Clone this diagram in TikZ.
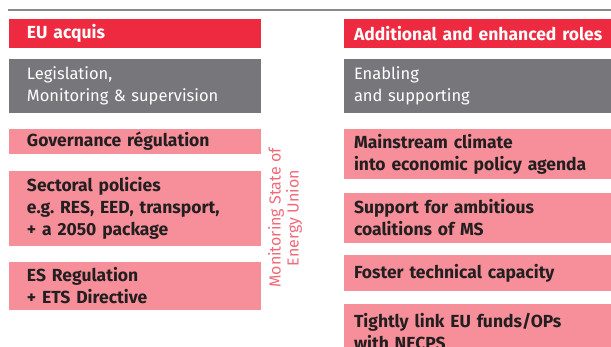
\documentclass[tikz,border=0pt]{standalone}
\usepackage{fontspec}
\setmainfont{Fira Sans}
\usetikzlibrary{positioning}

\definecolor{eured}{HTML}{EE2A40}
\definecolor{eupink}{HTML}{F68F99}
\definecolor{eugrey}{HTML}{77777B}
\definecolor{euink}{HTML}{231F20}
\definecolor{eurule}{HTML}{8A8A8C}
\definecolor{eurose}{HTML}{F06A7A}

\begin{document}
\begin{tikzpicture}[
    node distance=16pt,
  colbox/.style = {
        rectangle, align=left, outer sep=0pt, inner ysep=0pt,
        font=\fontsize{16.5}{21.5}\selectfont},
 leftbox/.style = {colbox, text width=216pt, inner xsep=18pt},
rightbox/.style = {colbox, text width=262pt, inner xsep=10pt},
 headbox/.style = {
        fill=eured, text=white, minimum height=29pt,
        font=\fontsize{17.5}{22}\selectfont\bfseries},
 greybox/.style = {fill=eugrey, text=white, minimum height=54pt},
 pinkbox/.style = {
        fill=eupink, text=euink,
        font=\fontsize{17.5}{22}\selectfont\bfseries}
                    ]
\useasboundingbox (0pt,0pt) rectangle (611pt,-346pt);
% the rule under the title
\draw[eurule, line width=1.2pt] (8pt,-10pt) coordinate (rl)
                                -- (611pt,-10pt) coordinate (rr);
% the column on the left
\node (hl) [leftbox, headbox, anchor=north west] at (9pt,-19pt) {EU acquis};
\node (gl) [leftbox, greybox, below=11pt of hl] {Legislation,\\
                                    Monitoring \& supervision};
\node (l1) [leftbox, pinkbox, minimum height=25pt, below=of gl]
                                    {Governance régulation};
\node (l2) [leftbox, pinkbox, minimum height=75pt, below=17pt of l1]
                                    {Sectoral policies\\
                                    e.g.\ RES, EED, transport,\\
                                    + a 2050 package};
\node (l3) [leftbox, pinkbox, minimum height=48pt, below=of l2]
                                    {ES Regulation\\
                                    + ETS Directive};
% the column on the right
\node (hr) [rightbox, headbox, anchor=north west] at (344pt,-19pt)
                                    {Additional and enhanced roles};
\node (gr) [rightbox, greybox, below=11pt of hr] {Enabling\\
                                    and supporting};
\node (r1) [rightbox, pinkbox, minimum height=50pt, below=of gr]
                                    {Mainstream climate\\
                                    into economic policy agenda};
\node (r2) [rightbox, pinkbox, minimum height=50pt, below=14pt of r1]
                                    {Support for ambitious\\
                                    coalitions of MS};
\node (r3) [rightbox, pinkbox, minimum height=36pt, below=12pt of r2]
                                    {Foster technical capacity};
\node (r4) [rightbox, pinkbox, minimum height=56pt, below=13pt of r3]
                                    {Tightly link EU funds/OPs\\
                                    with NECPS};
% the label in between
\node (mon) [rotate=90, align=center, text=eurose, inner sep=0pt,
             font=\fontsize{16}{18}\selectfont] at (285pt,-218pt)
                                    {Monitoring State of\\ Energy Union};
\end{tikzpicture}
\end{document}
